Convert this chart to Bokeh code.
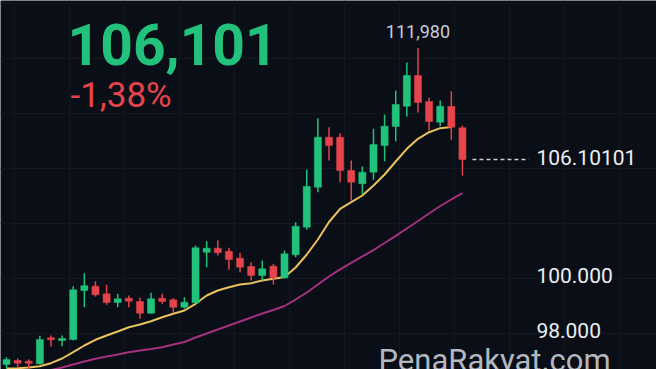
import numpy as np
from bokeh.plotting import figure
from bokeh.models import ColumnDataSource, Range1d, Label, Grid, FixedTicker
from bokeh.core.properties import value
from bokeh.embed import file_html
from bokeh.resources import INLINE

# ---------------- data ----------------
opens = [96.782, 96.927, 96.902, 96.807, 97.753, 97.655, 97.691, 99.473, 99.629, 99.353,
         99.036, 99.193, 99.073, 98.647, 99.193, 99.135, 98.865, 99.025, 100.865, 101.011,
         100.902, 100.647, 100.345, 100.018, 100.356, 99.935, 100.771, 101.775, 103.229, 105.047,
         105.047, 103.836, 103.353, 103.775, 104.745, 105.436, 106.175, 107.291, 106.345, 105.593,
         106.164, 105.389]
closes = [96.964, 96.829, 96.829, 97.691, 97.680, 97.727, 99.498, 99.644, 99.316, 99.036,
          99.171, 99.084, 98.647, 99.171, 99.073, 98.865, 99.047, 101.025, 101.011, 100.844,
          100.600, 100.320, 100.018, 100.262, 99.935, 100.807, 101.811, 103.255, 105.047, 104.745,
          103.836, 103.411, 103.775, 104.782, 105.447, 106.236, 107.291, 106.309, 105.618, 106.175,
          105.411, 104.236]
highs = [97.047, 97.000, 96.964, 97.825, 97.836, 97.836, 99.629, 100.102, 99.811, 99.680,
         99.353, 99.291, 99.207, 99.389, 99.353, 99.193, 99.229, 101.109, 101.265, 101.291,
         101.025, 100.844, 100.502, 100.564, 100.444, 100.927, 101.956, 103.873, 105.738, 105.411,
         105.193, 104.200, 103.982, 105.353, 105.873, 106.745, 107.764, 108.291, 106.480, 106.382,
         106.720, 105.473]
lows = [96.636, 96.673, 96.636, 96.782, 97.436, 97.447, 97.655, 98.865, 99.255, 98.953,
        98.865, 98.865, 98.444, 98.625, 98.989, 98.647, 98.807, 99.000, 100.320, 100.745,
        100.225, 100.138, 99.836, 99.836, 99.691, 99.909, 100.684, 101.680, 103.047, 104.200,
        103.411, 102.745, 102.964, 103.498, 104.175, 104.891, 105.800, 105.945, 105.291, 105.447,
        104.953, 103.655]
nan = float("nan")
ma_fast = [96.636, 96.647, 96.673, 96.720, 96.829, 97.000, 97.229, 97.473, 97.680, 97.836,
           97.982, 98.138, 98.236, 98.356, 98.502, 98.625, 98.745, 98.989, 99.291, 99.473,
           99.593, 99.691, 99.738, 99.836, 99.898, 99.964, 100.309, 100.782, 101.327, 101.964,
           102.444, 102.684, 102.927, 103.291, 103.691, 104.164, 104.625, 104.989, 105.229, 105.375,
           105.418, nan]
ma_slow = [nan, nan, nan, nan, 96.582, 96.673, 96.782, 96.891, 96.989, 97.073,
           97.145, 97.229, 97.291, 97.345, 97.411, 97.509, 97.600, 97.764, 97.909, 98.055,
           98.200, 98.345, 98.491, 98.636, 98.764, 98.909, 99.145, 99.400, 99.691, 99.982,
           100.244, 100.480, 100.716, 100.945, 101.200, 101.462, 101.727, 102.000, 102.273, 102.545,
           102.782, 103.011]

tick_values = [98.0, 100.0]
tick_labels = ["98.000", "100.000"]
last_price_label = "106.10101"
high_label = "111,980"
headline_price = "106,101"
headline_change = "-1,38%"
watermark = "PenaRakyat.com"

# ---------------- styling ----------------
BG = "#0a0e16"
GREEN = "#22c27d"
RED = "#e5444c"
YELLOW = "#e9c25c"
PURPLE = "#a5307d"
FONT = "Roboto"

W, H = 656, 369
n = len(closes)
idx = list(range(n))

p = figure(width=W, height=H, output_backend="svg", toolbar_location=None,
           x_axis_location=None, y_axis_location=None,
           x_range=Range1d(-0.54, 58.45), y_range=Range1d(96.6, 110.018),
           min_border=0, min_border_left=0, min_border_right=0,
           min_border_top=0, min_border_bottom=0)
p.background_fill_color = BG
p.border_fill_color = BG
p.outline_line_color = None
p.center = []

# faint grid
gx = Grid(dimension=0, ticker=FixedTicker(ticks=[0.7 + 4.95 * k for k in range(-1, 13)]),
          grid_line_color="#121720", grid_line_width=1)
gy = Grid(dimension=1, ticker=FixedTicker(ticks=[95.909 + 2 * k for k in range(0, 8)]),
          grid_line_color="#121720", grid_line_width=1)
p.add_layout(gx, "center")
p.add_layout(gy, "center")

colors = [GREEN if c >= o else RED for o, c in zip(opens, closes)]
src = ColumnDataSource(dict(x=idx, o=opens, c=closes, h=highs, l=lows,
                            top=[max(a, b) for a, b in zip(opens, closes)],
                            bot=[min(a, b) for a, b in zip(opens, closes)],
                            col=colors))

# moving averages
p.line(idx, ma_slow, line_color=PURPLE, line_width=2)
p.line(idx, ma_fast, line_color=YELLOW, line_width=2)

# candles
p.segment(x0="x", y0="h", x1="x", y1="l", source=src, line_color="col", line_width=1.5)
p.vbar(x="x", top="top", bottom="bot", width=0.64, source=src,
       fill_color="col", line_color="col", line_width=0.5)

# last price dashed line + right labels
label_x = 47.65
p.segment(x0=[n - 1 + 0.9], y0=[closes[-1]], x1=[label_x - 0.7], y1=[closes[-1]],
          line_color="#c9ccd2", line_width=1.5, line_dash="4 3")
p.text(x=[label_x] * (len(tick_values) + 1), y=[closes[-1]] + tick_values,
       text=[last_price_label] + tick_labels,
       text_font=value(FONT), text_font_size="21px", text_color="#eceef1",
       text_align="left", text_baseline="middle", y_offset=[-2, 0, 0])

# max high annotation
imax = int(np.argmax(highs))
p.text(x=[imax], y=[highs[imax]], text=[high_label], text_font=value(FONT),
       text_font_size="18px", text_color="#c9ccd2", text_align="center",
       text_baseline="alphabetic", y_offset=-16)

# headline
p.add_layout(Label(x=67, y=H - 44, x_units="screen", y_units="screen", text=headline_price,
                   text_font=FONT, text_font_size="57px", text_font_style="bold",
                   text_color=GREEN, text_baseline="alphabetic"))
p.add_layout(Label(x=70, y=H - 95, x_units="screen", y_units="screen", text=headline_change,
                   text_font=FONT, text_font_size="35px", text_color=RED,
                   text_baseline="alphabetic"))
# watermark
p.add_layout(Label(x=378, y=H - 360, x_units="screen", y_units="screen", text=watermark,
                   text_font=FONT, text_font_size="31px", text_color="#b3b7bf",
                   text_baseline="alphabetic"))

open("out.html", "w").write(file_html(p, INLINE))
